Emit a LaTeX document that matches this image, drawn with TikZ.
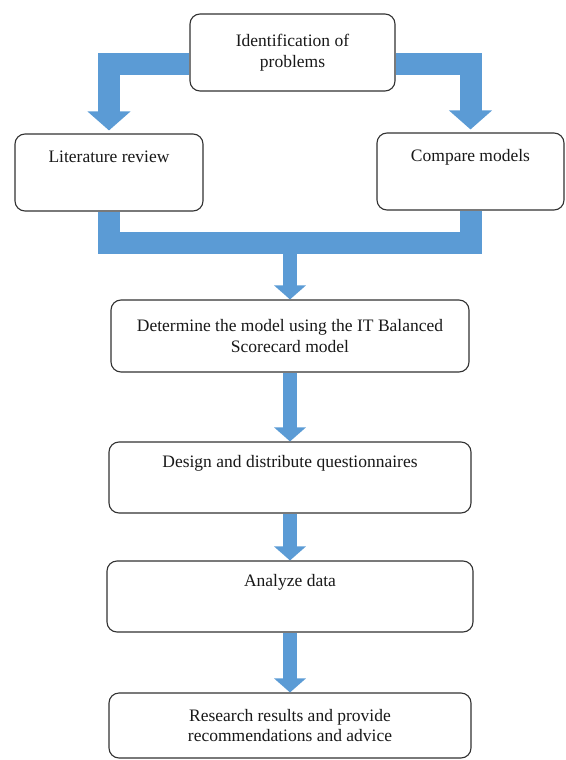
\documentclass[tikz,border=0pt]{standalone}
\usepackage{fontspec}
\setmainfont{Liberation Serif}
\usetikzlibrary{arrows.meta}
\definecolor{arrowblue}{RGB}{91,155,213}
\definecolor{boxline}{RGB}{50,50,50}
\begin{document}
\begin{tikzpicture}[x=1pt,y=-1pt,
    stage/.style={draw=boxline,line width=1.1pt,rounded corners=10pt,fill=white,align=center,
      font=\fontsize{17.5}{20.5}\selectfont,text=black!90,inner sep=0pt},
    oneline/.style={text depth=32pt},
    fatarrow/.style={draw=arrowblue,line width=22pt,-{Triangle[width=42pt,length=19pt]}},
    fatbar/.style={draw=arrowblue,line width=22pt},
    slimarrow/.style={draw=arrowblue,line width=14pt,-{Triangle[width=31pt,length=14pt]}}]
    \useasboundingbox (0,0) rectangle (565,760);
    %\draw[ultra thin,gray!20] (0,0) grid[step=20pt] (565,760);
    \node[stage,minimum width=205pt,minimum height=77pt] (ident) at (292.5,52.5) {Identification of\\problems};
    \node[stage,oneline,minimum width=188pt,minimum height=77pt] (lit) at (109,172.5) {Literature review};
    \node[stage,oneline,minimum width=187pt,minimum height=77pt] (cmp) at (470.5,171.5) {Compare models};
    \node[stage,minimum width=358pt,minimum height=72pt] (det) at (290,336) {Determine the model using the IT Balanced\\Scorecard model};
    \node[stage,oneline,minimum width=362pt,minimum height=71pt] (des) at (290,477.5) {Design and distribute questionnaires};
    \node[stage,oneline,minimum width=366pt,minimum height=71pt] (ana) at (290,596.5) {Analyze data};
    \node[stage,minimum width=362pt,minimum height=65pt] (res) at (290,725.5) {Research results and provide\\recommendations and advice};
    \coordinate (joint) at (290,243);
    % arrows
    \draw[fatarrow,shorten >=3pt] ([yshift=-11.5pt]ident.west) -| (lit.north);
    \draw[fatarrow,shorten >=3pt] ([yshift=-11.5pt]ident.east) -| (cmp.north);
    \draw[fatbar] (lit.south) |- (joint) -| (cmp.south);
    \draw[slimarrow] (joint) -- (det.north);
    \draw[slimarrow] (det.south) -- (des.north);
    \draw[slimarrow] (des.south) -- (ana.north);
    \draw[slimarrow] (ana.south) -- (res.north);
\end{tikzpicture}
\end{document}
